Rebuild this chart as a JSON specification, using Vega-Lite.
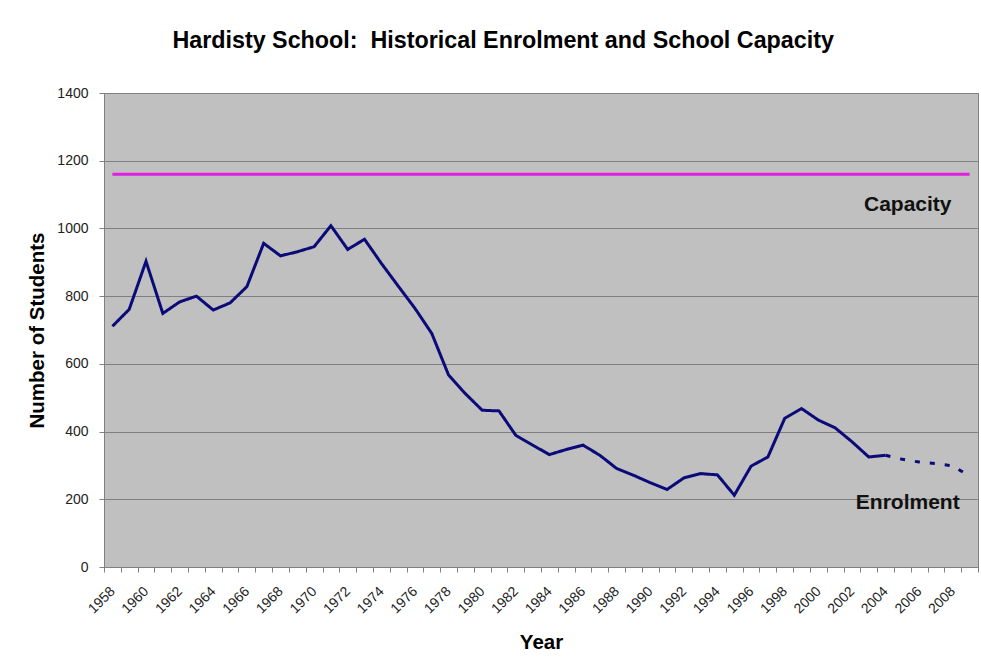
{
  "$schema": "https://vega.github.io/schema/vega-lite/v6.json",
  "width": 874,
  "height": 474,
  "autosize": {"type": "none"},
  "padding": {"left": 104, "top": 93, "right": 3, "bottom": 101},
  "background": "#ffffff",
  "title": {
    "text": "Hardisty School:\u00a0 Historical Enrolment and School Capacity",
    "font": "Liberation Sans",
    "fontSize": 23.3,
    "fontWeight": "bold",
    "color": "#000000",
    "anchor": "middle",
    "frame": "bounds",
    "offset": 33
  },
  "config": {
    "font": "Liberation Sans",
    "view": {"fill": "#C0C0C0", "stroke": "#808080", "strokeWidth": 1}
  },
  "datasets": {
    "enrol": [
      {"year": 1958, "series": "Capacity", "students": 1160},
      {"year": 2009, "series": "Capacity", "students": 1160},
      {"year": 1958, "series": "Actual", "students": 711},
      {"year": 1959, "series": "Actual", "students": 761},
      {"year": 1960, "series": "Actual", "students": 903},
      {"year": 1961, "series": "Actual", "students": 749},
      {"year": 1962, "series": "Actual", "students": 783},
      {"year": 1963, "series": "Actual", "students": 800},
      {"year": 1964, "series": "Actual", "students": 759},
      {"year": 1965, "series": "Actual", "students": 780},
      {"year": 1966, "series": "Actual", "students": 828},
      {"year": 1967, "series": "Actual", "students": 956},
      {"year": 1968, "series": "Actual", "students": 919},
      {"year": 1969, "series": "Actual", "students": 931},
      {"year": 1970, "series": "Actual", "students": 946},
      {"year": 1971, "series": "Actual", "students": 1008},
      {"year": 1972, "series": "Actual", "students": 938},
      {"year": 1973, "series": "Actual", "students": 968},
      {"year": 1974, "series": "Actual", "students": 897},
      {"year": 1975, "series": "Actual", "students": 830},
      {"year": 1976, "series": "Actual", "students": 764},
      {"year": 1977, "series": "Actual", "students": 690},
      {"year": 1978, "series": "Actual", "students": 567},
      {"year": 1979, "series": "Actual", "students": 512},
      {"year": 1980, "series": "Actual", "students": 463},
      {"year": 1981, "series": "Actual", "students": 461},
      {"year": 1982, "series": "Actual", "students": 389},
      {"year": 1983, "series": "Actual", "students": 360},
      {"year": 1984, "series": "Actual", "students": 332},
      {"year": 1985, "series": "Actual", "students": 347},
      {"year": 1986, "series": "Actual", "students": 360},
      {"year": 1987, "series": "Actual", "students": 330},
      {"year": 1988, "series": "Actual", "students": 291},
      {"year": 1989, "series": "Actual", "students": 271},
      {"year": 1990, "series": "Actual", "students": 249},
      {"year": 1991, "series": "Actual", "students": 229},
      {"year": 1992, "series": "Actual", "students": 263},
      {"year": 1993, "series": "Actual", "students": 276},
      {"year": 1994, "series": "Actual", "students": 272},
      {"year": 1995, "series": "Actual", "students": 212},
      {"year": 1996, "series": "Actual", "students": 298},
      {"year": 1997, "series": "Actual", "students": 325},
      {"year": 1998, "series": "Actual", "students": 439},
      {"year": 1999, "series": "Actual", "students": 468},
      {"year": 2000, "series": "Actual", "students": 434},
      {"year": 2001, "series": "Actual", "students": 411},
      {"year": 2002, "series": "Actual", "students": 370},
      {"year": 2003, "series": "Actual", "students": 325},
      {"year": 2004, "series": "Actual", "students": 330},
      {"year": 2004, "series": "Projected", "students": 330},
      {"year": 2005, "series": "Projected", "students": 318},
      {"year": 2006, "series": "Projected", "students": 310},
      {"year": 2007, "series": "Projected", "students": 305},
      {"year": 2008, "series": "Projected", "students": 299},
      {"year": 2009, "series": "Projected", "students": 268}
    ],
    "labels": [
      {"year": 2005, "students": 1070, "label": "Capacity"},
      {"year": 2005, "students": 188, "label": "Enrolment"}
    ]
  },
  "encoding": {
    "x": {
      "field": "year",
      "type": "ordinal",
      "scale": {
        "type": "band",
        "paddingInner": 0,
        "paddingOuter": 0,
        "domain": [1958,1959,1960,1961,1962,1963,1964,1965,1966,1967,1968,1969,1970,1971,1972,1973,1974,1975,1976,1977,1978,1979,1980,1981,1982,1983,1984,1985,1986,1987,1988,1989,1990,1991,1992,1993,1994,1995,1996,1997,1998,1999,2000,2001,2002,2003,2004,2005,2006,2007,2008,2009]
      },
      "axis": {
        "title": "Year",
        "titleFont": "Liberation Sans",
        "titleFontSize": 20.5,
        "titleFontWeight": "bold",
        "titleColor": "#000000",
        "titlePadding": 17,
        "labelAngle": -45,
        "labelAlign": "right",
        "labelBaseline": "middle",
        "labelFontSize": 14,
        "labelColor": "#222222",
        "labelExpr": "datum.value % 2 == 0 ? datum.label : ''",
        "labelPadding": 17,
        "labelDx": -6,
        "tickBand": "extent",
        "tickSize": 5,
        "tickColor": "#808080",
        "domainColor": "#808080",
        "grid": false
      }
    },
    "y": {
      "field": "students",
      "type": "quantitative",
      "scale": {"domain": [0, 1400], "nice": false, "zero": true},
      "axis": {
        "title": "Number of Students",
        "titleFont": "Liberation Sans",
        "titleFontSize": 20.5,
        "titleFontWeight": "bold",
        "titleColor": "#000000",
        "titlePadding": 9,
        "values": [0, 200, 400, 600, 800, 1000, 1200, 1400],
        "format": "d",
        "labelFontSize": 14,
        "labelColor": "#222222",
        "labelPadding": 11,
        "tickSize": 5,
        "tickColor": "#808080",
        "domainColor": "#808080",
        "grid": true,
        "gridColor": "#808080",
        "gridOpacity": 1,
        "gridWidth": 1
      }
    }
  },
  "layer": [
    {
      "data": {"name": "enrol"},
      "mark": {"type": "line", "strokeWidth": 3, "strokeCap": "butt"},
      "encoding": {
        "x": {
          "field": "year",
          "type": "ordinal",
          "bandPosition": 0.5
        },
        "color": {
          "field": "series",
          "type": "nominal",
          "scale": {"domain": ["Capacity", "Actual", "Projected"], "range": ["#E020E0", "#0A0A78", "#0A0A78"]},
          "legend": null
        },
        "strokeDash": {
          "field": "series",
          "type": "nominal",
          "scale": {"domain": ["Capacity", "Actual", "Projected"], "range": [[1, 0], [1, 0], [5, 10]]},
          "legend": null
        }
      }
    },
    {
      "data": {"name": "labels"},
      "mark": {"type": "text", "font": "Liberation Sans", "fontSize": 21, "fontWeight": "bold", "color": "#111111", "align": "center", "baseline": "middle", "dx": -3},
      "encoding": {
        "x": {"field": "year", "type": "ordinal", "bandPosition": 1},
        "text": {"field": "label", "type": "nominal"}
      }
    }
  ]
}
